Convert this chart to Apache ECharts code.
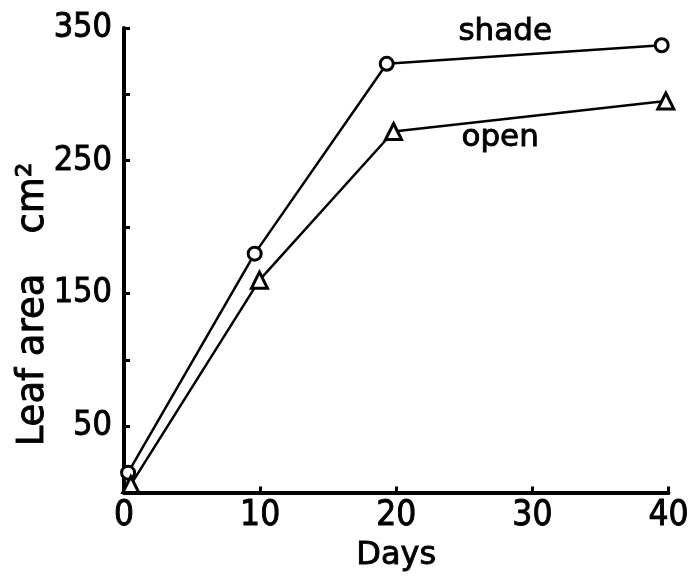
<!DOCTYPE html>
<html>
<head>
<meta charset="utf-8">
<script src="https://cdn.jsdelivr.net/npm/echarts@6/dist/echarts.min.js"></script>
<style>
html,body{margin:0;padding:0;background:#fff;}
#chart{width:692px;height:577px;}
</style>
</head>
<body>
<div id="chart"></div>
<script>
// ---- data ----
var shadeDays = [0.3, 9.6, 19.3, 39.5];
var shadeArea = [15, 180, 323, 337];
var openDays = [0.5, 9.95, 19.8, 39.8];
var openArea = [6, 160, 272, 295];
var xTicks = [0, 10, 20, 30, 40];
var yTickLabels = [50, 150, 250, 350];

var FONT = 'DejaVu Sans Condensed, DejaVu Sans, sans-serif';
var FONT2 = 'DejaVu Sans, sans-serif';
var HEAVY = {textBorderColor: '#000', textBorderWidth: 0.9};

function pairs(xs, ys) {
  return xs.map(function (x, i) { return [x, ys[i]]; });
}
function ext(a, b) { var o = {}; for (var k in a) o[k] = a[k]; for (var k2 in b) o[k2] = b[k2]; return o; }

var chart = echarts.init(document.getElementById('chart'), null, {renderer: 'canvas'});
chart.setOption({
  backgroundColor: '#fff',
  animation: false,
  grid: {left: 124, right: 15, top: 28, bottom: 79, containLabel: false},
  xAxis: {
    type: 'value', min: xTicks[0], max: xTicks[xTicks.length - 1], interval: 10,
    name: 'Days', nameLocation: 'middle', nameGap: 47,
    nameTextStyle: ext({fontFamily: FONT2, fontSize: 32, color: '#000'}, HEAVY),
    axisLine: {show: true, onZero: false, lineStyle: {color: '#000', width: 4}},
    axisTick: {show: true, inside: true, length: 6, lineStyle: {color: '#000', width: 3}},
    axisLabel: ext({color: '#000', fontFamily: FONT, fontSize: 35, margin: 6}, HEAVY),
    splitLine: {show: false}
  },
  yAxis: {
    type: 'value', min: 0, max: 350, interval: 50,
    axisLine: {show: true, onZero: false, lineStyle: {color: '#000', width: 4}},
    axisTick: {show: true, inside: true, length: 6, lineStyle: {color: '#000', width: 3}},
    axisLabel: ext({
      color: '#000', fontFamily: FONT, fontSize: 34, margin: 12,
      formatter: function (v) { return yTickLabels.indexOf(v) >= 0 ? String(v) : ''; }
    }, HEAVY),
    splitLine: {show: false}
  },
  series: [
    {
      name: 'shade', type: 'line', data: pairs(shadeDays, shadeArea),
      symbol: 'circle', symbolSize: 13, showAllSymbol: true,
      lineStyle: {color: '#000', width: 2.5},
      itemStyle: {color: '#fff', borderColor: '#000', borderWidth: 3},
      z: 3
    },
    {
      name: 'open', type: 'line', data: pairs(openDays, openArea),
      symbol: 'triangle', symbolSize: 16, showAllSymbol: true,
      lineStyle: {color: '#000', width: 2.5},
      itemStyle: {color: '#fff', borderColor: '#000', borderWidth: 3},
      z: 3
    }
  ],
  graphic: [
    {type: 'text', left: 458, top: 16, style: {text: 'shade', fontFamily: FONT2, fontSize: 31, fill: '#000', stroke: '#000', lineWidth: 0.9}},
    {type: 'text', left: 461, top: 122, style: {text: 'open', fontFamily: FONT2, fontSize: 31, fill: '#000', stroke: '#000', lineWidth: 0.9}},
    {type: 'text', x: 33, y: 360, rotation: Math.PI / 2,
      style: {text: 'Leaf area', fontFamily: FONT2, fontSize: 37, fill: '#000', align: 'center', verticalAlign: 'middle', stroke: '#000', lineWidth: 0.9}},
    {type: 'text', x: 33, y: 198, rotation: Math.PI / 2,
      style: {text: 'cm²', fontFamily: FONT2, fontSize: 37, fill: '#000', align: 'center', verticalAlign: 'middle', stroke: '#000', lineWidth: 0.9}}
  ]
});
</script>
</body>
</html>
